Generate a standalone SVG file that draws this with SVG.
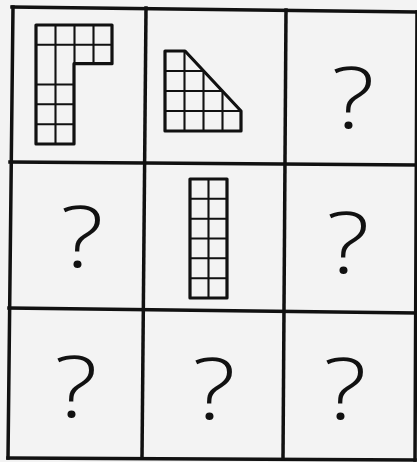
<svg xmlns="http://www.w3.org/2000/svg" width="417" height="462" viewBox="0 0 417 462">
<style>
.grid{stroke:#111;stroke-width:3.5;fill:none;stroke-linecap:square}
.outline{stroke:#111;stroke-width:3.2;fill:none;stroke-linejoin:round}
.inner{stroke:#111;stroke-width:2.1;fill:none}
.q{font-family:"Open Sans","Liberation Sans",sans-serif;font-weight:350;font-size:85px;fill:#111;text-anchor:middle}
</style>
<rect width="417" height="462" fill="#f3f3f3"/>
<g id="grid">
<path class="grid" d="M12,7 L417,12"/>
<path class="grid" d="M10,162 L417,165"/>
<path class="grid" d="M9,308 L417,313"/>
<path class="grid" d="M8,458 L415,460"/>
<path class="grid" d="M13,7 L8,458"/>
<path class="grid" d="M146,8 L142,458"/>
<path class="grid" d="M286,10 L283,459"/>
<path class="grid" d="M417,12 L415,460"/>
</g>
<g id="cell-0-0">
<path class="inner" d="M55.5,25 V144 M74.5,25 V63.7 M93.5,25 V63.7 M36,44.8 H112 M36,84.5 H74 M36,104.3 H74 M36,124.2 H74"/>
<path class="outline" d="M36,25 H112 V63.7 H74 V144 H36 Z"/>
</g>
<g id="cell-0-1">
<path class="inner" d="M184.5,51 V131 M203.5,71 V131 M222.5,91 V131 M165,71 H203.5 M165,91 H222.5 M165,111 H241"/>
<path class="outline" d="M165,51 H185 L241,111 V131 H165 Z"/>
</g>
<g id="cell-0-2"><text class="q" transform="translate(353,128) scale(1.2,1)">?</text></g>
<g id="cell-1-0"><text class="q" transform="translate(82,267) scale(1.2,1)">?</text></g>
<g id="cell-1-1">
<path class="inner" d="M208.5,179 V298 M190,198.8 H227 M190,218.7 H227 M190,238.5 H227 M190,258.3 H227 M190,278.2 H227"/>
<rect class="outline" x="190" y="179" width="37" height="119"/>
</g>
<g id="cell-1-2"><text class="q" transform="translate(348,273) scale(1.2,1)">?</text></g>
<g id="cell-2-0"><text class="q" transform="translate(76,417) scale(1.2,1)">?</text></g>
<g id="cell-2-1"><text class="q" transform="translate(214,419) scale(1.2,1)">?</text></g>
<g id="cell-2-2"><text class="q" transform="translate(345,419) scale(1.2,1)">?</text></g>
</svg>
